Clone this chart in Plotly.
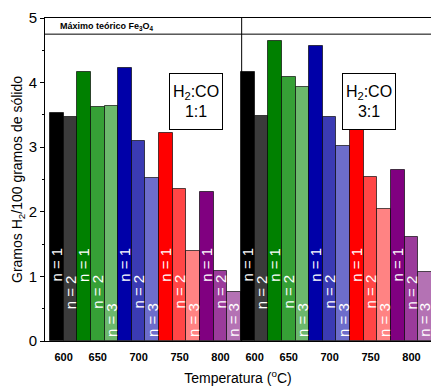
import plotly.graph_objects as go

# ---------------- data ----------------
temperatures = ["600", "650", "700", "750", "800"]
ratio_labels = ["1:1", "3:1"]
cycle_labels = ["n = 1", "n = 2", "n = 3"]
# grams H2 / 100 g solid, per temperature, per cycle n
h2_ratio_1_1 = [[3.53, 3.46], [4.16, 3.62, 3.64], [4.22, 3.09, 2.53], [3.22, 2.35, 1.39], [2.31, 1.09, 0.76]]
h2_ratio_3_1 = [[4.16, 3.48], [4.65, 4.08, 3.93], [4.57, 3.47, 3.02], [3.37, 2.54, 2.05], [2.64, 1.61, 1.07]]
theoretical_max = 4.75

# ---------------- style ----------------
shades = {
    "600": ["#000000", "#3b3b3b"],
    "650": ["#008000", "#36a036", "#6cb86c"],
    "700": ["#0000a8", "#3b3bb4", "#6d6dcb"],
    "750": ["#ff0000", "#ff4646", "#ff8383"],
    "800": ["#800080", "#9b3b9b", "#b472b4"],
}
label_heights = [1.18, 0.76, 0.33]
FONT = "Liberation Sans, Arial, sans-serif"

fig = go.Figure()
annotations = []
tickvals, ticktext = [], []
pos = 0
for panel, values in zip(ratio_labels, [h2_ratio_1_1, h2_ratio_3_1]):
    xs, ys, cols = [], [], []
    for t, group in zip(temperatures, values):
        start = pos
        for k, v in enumerate(group):
            xs.append(pos)
            ys.append(v)
            cols.append(shades[t][k])
            annotations.append(dict(
                x=pos, y=label_heights[k], xref="x", yref="y", text=cycle_labels[k],
                textangle=-90, showarrow=False,
                font=dict(family=FONT, size=15, color="white")))
            pos += 1
        tickvals.append((start + pos - 1) / 2)
        ticktext.append(t)
    fig.add_trace(go.Bar(
        x=xs, y=ys, width=1, name="H2:CO " + panel,
        marker=dict(color=cols, line=dict(color="rgba(0,0,0,0.65)", width=1)),
        showlegend=False, hoverinfo="x+y"))

# theoretical max line and panel divider
fig.add_shape(type="line", xref="paper", yref="y", x0=0, x1=1,
              y0=theoretical_max, y1=theoretical_max, line=dict(color="black", width=1))
fig.add_shape(type="line", xref="x", yref="y", x0=13.55, x1=13.55, y0=0, y1=5,
              line=dict(color="black", width=1), layer="below")

annotations.append(dict(
    x=0.034, y=(theoretical_max + 5) / 2, xref="paper", yref="y", xanchor="left",
    text="<b>Máximo teórico Fe<sub>3</sub>O<sub>4</sub></b>", showarrow=False,
    font=dict(family=FONT, size=9, color="black")))
for xp, r in zip([0.392, 0.91], ratio_labels):
    annotations.append(dict(
        x=xp, y=0.831, xref="paper", yref="paper",
        text="H<sub>2</sub>:CO<br>" + r, showarrow=False,
        width=46, height=49, borderpad=3, bordercolor="black", borderwidth=1,
        bgcolor="white", font=dict(family=FONT, size=16, color="black")))

fig.update_layout(
    width=431, height=386,
    margin=dict(l=45, r=0, t=18, b=45),
    plot_bgcolor="white", paper_bgcolor="white",
    bargap=0,
    annotations=annotations,
    font=dict(family=FONT, color="black"),
    xaxis=dict(
        range=[-0.867, 27.43], tickmode="array", tickvals=tickvals, ticktext=ticktext,
        showline=True, linecolor="black", linewidth=1, mirror=True, ticks="",
        showgrid=False, zeroline=False, ticklabelstandoff=6,
        tickfont=dict(family=FONT, size=11, color="black", weight="bold"),
        title=dict(text="Temperatura (<sup>o</sup>C)", standoff=10,
                   font=dict(family=FONT, size=14, color="black")),
        automargin=False),
    yaxis=dict(
        range=[0, 5], dtick=1, tick0=0, showline=True, linecolor="black", linewidth=1,
        ticks="outside", ticklen=4, tickcolor="black", showgrid=False, zeroline=False,
        minor=dict(dtick=0.5, ticks="outside", ticklen=2, tickcolor="black"),
        tickfont=dict(family=FONT, size=15, color="black"),
        title=dict(text="Gramos H<sub>2</sub>/100 gramos de sólido", standoff=2,
                   font=dict(family=FONT, size=14, color="black")),
        automargin=False),
)

fig.write_html("out.html", config={"displayModeBar": False},
               post_script="document.body.style.margin='0';document.body.style.overflow='hidden';")
